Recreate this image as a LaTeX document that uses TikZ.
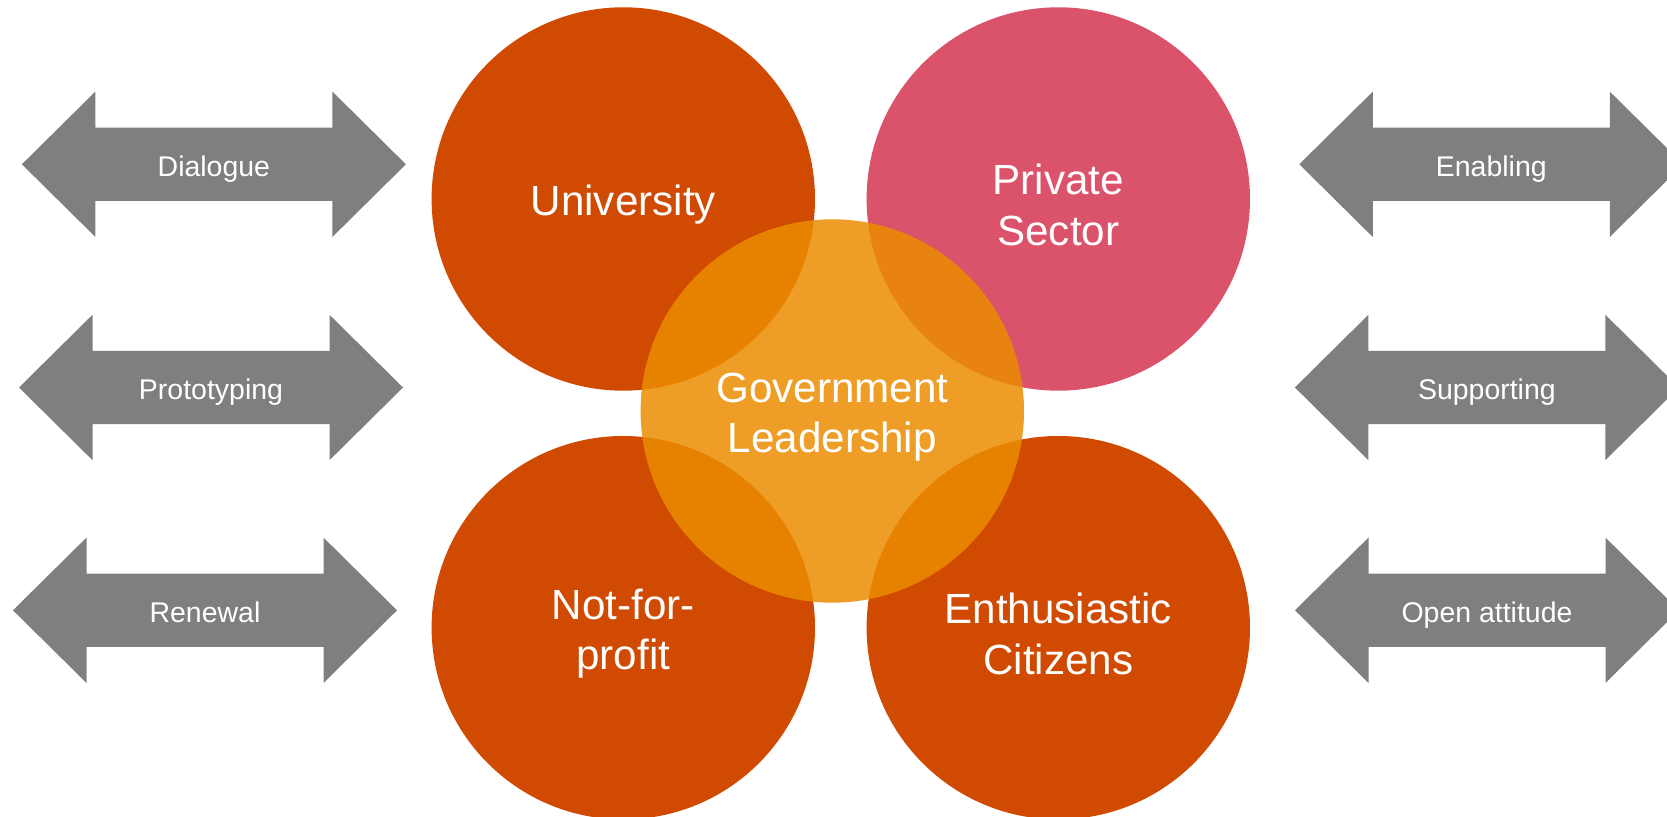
\documentclass[tikz,border=0pt]{standalone}
\usepackage{fontspec}
\setmainfont{Liberation Sans}
\usepackage{xcolor}
\usetikzlibrary{positioning}
\definecolor{partnerred}{HTML}{D04A02}
\definecolor{partnerrose}{HTML}{DB536A}
\definecolor{govgold}{HTML}{EB8C00}
\definecolor{flowgray}{HTML}{7F7F7F}

\begin{document}
\begin{tikzpicture}[
    partner/.style={circle, minimum size=3.834cm, inner sep=0pt},
    partnertext/.style={text=white, text opacity=1, align=center, yshift=-0.6mm,
                        font=\fontsize{12}{14.4}\selectfont},
    flowtext/.style={text=white, anchor=base, inner sep=0pt,
                     font=\fontsize{8.1}{9.7}\selectfont}
]
    \clip (0,0) rectangle (16.67,8.17);
    % Partners
    \node[partner, fill=partnerred,
          label={[partnertext]center:University}] (uni) at (6.233,6.18) {};
    \node[partner, fill=partnerrose,
          label={[partnertext]center:Private\\Sector}] (priv) at (10.583,6.18) {};
    \node[partner, fill=partnerred,
          label={[partnertext]center:Not-for-\\profit}] (nfp) at (6.233,1.893) {};
    \node[partner, fill=partnerred,
          label={[partnertext]center:Enthusiastic\\Citizens}] (cit) at (10.583,1.893) {};
    % Government in the middle
    \node[partner, fill=govgold, fill opacity=.85,
          label={[partnertext]center:Government\\Leadership}] (gov) at (8.323,4.06) {};
    % Double arrows
    \foreach \cx/\cy/\name/\txt in {2.139/6.527/dialogue/Dialogue,
                                    2.110/4.295/proto/Prototyping,
                                    2.050/2.067/renewal/Renewal,
                                    14.913/6.527/enabling/Enabling,
                                    14.869/4.295/support/Supporting,
                                    14.870/2.067/open/Open attitude}{
        \fill[flowgray] (\cx-1.92,\cy) -- ++(0.735,0.727) -- ++(0,-0.36)
             -- ++(2.37,0) -- ++(0,0.36) -- ++(0.735,-0.727)
             -- ++(-0.735,-0.727) -- ++(0,0.36) -- ++(-2.37,0)
             -- ++(0,-0.36) -- cycle;
        \node[flowtext] (\name) at (\cx,\cy-0.122) {\txt};
    }
\end{tikzpicture}
\end{document}
